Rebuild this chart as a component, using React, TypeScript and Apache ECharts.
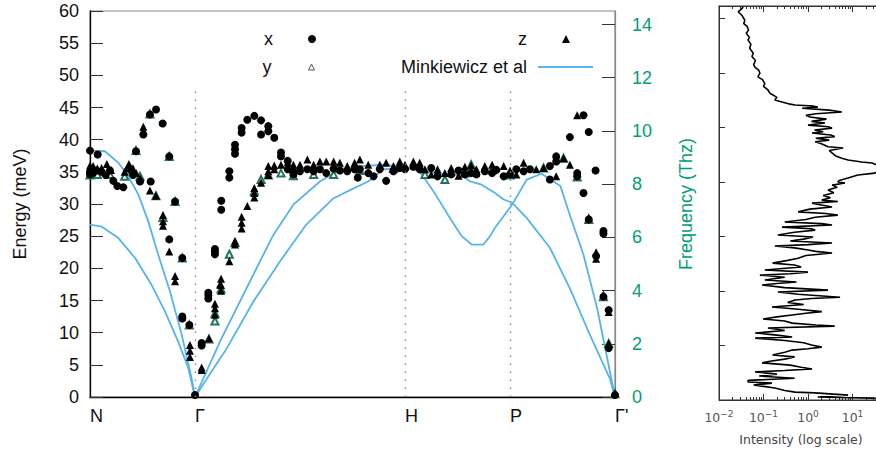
import { useEffect, useRef } from "react";
import * as echarts from "echarts";

const MAIN_FONT = "'Liberation Sans', Arial, Helvetica, sans-serif";
const SIDE_FONT = "'DejaVu Sans', sans-serif";
const GREEN = "#009e73";
const BLUE = "#56b4e9";
const CHART_WIDTH = 920; // wider than the 876px window: the DOS panel runs off the right edge

// High-symmetry path (distance along path, label)
const symmetryPositions = [0, 1, 3, 4, 5];
const symmetryLabels = ["N", "Γ", "H", "P", "Γ'"];
const dividerPositions = [1, 3, 4];
const dividerTop = 47.8;

const energyMax = 60;
const meVPerTHz = 4.13567;
const dosFreqMax = 14.45;

const intensityDecadeExponents = [-2, -1, 0, 1];
const intensityMinorMultipliers = [2, 3, 4, 5, 6, 7, 8, 9];

// Measured phonon energies (meV) along the path
const xPolarization: [number, number][] = [
  [0, 38.3], [0.073, 37.7], [0, 35.0], [0, 34.6], [0.03, 34.8], [0.06, 35.2], [0.11, 35.0], [0.15, 34.5],
  [0.19, 35.2], [0.222, 33.6], [0.26, 32.8], [0.317, 32.6], [0.37, 35.5], [0.41, 34.5], [0.476, 33.5],
  [0.578, 33.5], [0.438, 38.2], [0.508, 40.8], [0.571, 43.9], [0.629, 44.7], [0.692, 42.5], [0.755, 37.4],
  [0.81, 30.4], [0.755, 24.5], [0.879, 21.6], [0.879, 12.5], [0.879, 12.2], [0.946, 11.2], [1.0, 0.3],
  [1.063, 8.4], [1.063, 8.0], [1.127, 15.8], [1.127, 15.3], [1.127, 16.2], [1.19, 22.6], [1.19, 22.2],
  [1.19, 23.0], [1.25, 30.5], [1.25, 29.1], [1.327, 35.1], [1.327, 34.1], [1.381, 38.5], [1.381, 37.8],
  [1.381, 39.2], [1.444, 41.8], [1.444, 41.1], [1.498, 43.1], [1.565, 43.7], [1.629, 43.0], [1.629, 40.8],
  [1.698, 42.1], [1.698, 41.3], [1.755, 40.3], [1.819, 38.0], [1.819, 37.4], [1.883, 36.7], [1.883, 35.4],
  [1.937, 35.0], [1.937, 34.6], [2.0, 35.1], [2.07, 35.4], [2.13, 35.1], [2.19, 35.4], [2.25, 34.8],
  [2.32, 35.5], [2.38, 35.2], [2.45, 35.1], [2.52, 35.4], [2.55, 34.1], [2.57, 35.4], [2.65, 34.8],
  [2.7, 34.3], [2.76, 35.4], [2.82, 33.6], [2.89, 35.1], [2.95, 35.6], [3.0, 35.4], [3.08, 35.8],
  [3.14, 35.4], [3.25, 35.6], [3.31, 34.3], [3.44, 34.6], [3.51, 35.2], [3.57, 34.6], [3.63, 34.8],
  [3.68, 34.6], [3.76, 35.1], [3.83, 34.8], [3.87, 35.3], [3.94, 34.3], [4.0, 34.6], [4.06, 35.4],
  [4.13, 35.1], [4.19, 35.4], [4.38, 35.9], [4.38, 33.8], [4.44, 37.4], [4.44, 36.6], [4.57, 40.4],
  [4.7, 43.8], [4.64, 34.8], [4.64, 34.3], [4.7, 31.7], [4.75, 41.2], [4.75, 27.6], [4.815, 35.2],
  [4.82, 21.9], [4.89, 25.8], [4.89, 25.4], [4.89, 15.6], [4.94, 13.5], [4.94, 7.6], [5.0, 0.3],
];

const yPolarization: [number, number][] = [
  [0, 34.5], [0.07, 34.6], [0.19, 34.6], [0.33, 34.3], [0.4, 35.3], [0.438, 38.3], [0.476, 34.3],
  [0.571, 44.0], [0.628, 31.3], [0.695, 27.9], [0.755, 37.4], [0.81, 30.4], [0.879, 21.6], [0.946, 11.2],
  [1.133, 9.0], [1.19, 11.8], [1.19, 13.0], [1.248, 16.8], [1.327, 22.2], [1.381, 24.0], [1.565, 32.0],
  [1.629, 33.8], [1.698, 34.5], [1.819, 34.8], [1.937, 34.4], [2.13, 34.6], [2.32, 34.6], [2.57, 35.2],
  [2.89, 35.5], [3.19, 34.6], [3.38, 33.8], [3.57, 34.8], [3.63, 36.1], [3.83, 35.3], [4.0, 34.5],
  [4.32, 35.6], [4.51, 37.1], [4.64, 34.2], [4.75, 27.6], [4.89, 15.6], [4.94, 8.3], [5.0, 0.5],
];

const zPolarization: [number, number][] = [
  [0, 36.0], [0, 35.3], [0.03, 35.9], [0.07, 35.5], [0.11, 35.6], [0.16, 36.2], [0.2, 35.3], [0.33, 35.0],
  [0.37, 36.2], [0.41, 35.5], [0.44, 34.8], [0.476, 34.0], [0.508, 42.0], [0.508, 41.4], [0.571, 32.1],
  [0.628, 31.3], [0.695, 28.3], [0.695, 26.6], [0.695, 27.3], [0.755, 22.6], [0.81, 18.8], [0.81, 18.0],
  [0.952, 8.1], [0.952, 7.2], [0.952, 6.2], [1.063, 4.2], [1.063, 4.6], [1.133, 9.1], [1.19, 13.8],
  [1.19, 12.8], [1.19, 14.5], [1.248, 17.4], [1.248, 16.5], [1.248, 18.4], [1.238, 17.5], [1.327, 21.1],
  [1.381, 24.2], [1.381, 23.7], [1.444, 27.1], [1.444, 26.2], [1.444, 28.0], [1.498, 29.7], [1.565, 31.7],
  [1.565, 31.0], [1.565, 32.5], [1.629, 33.3], [1.698, 35.1], [1.698, 35.9], [1.698, 34.5], [1.755, 35.4],
  [1.755, 36.0], [1.819, 36.1], [1.883, 36.5], [1.937, 36.1], [2.0, 36.1], [2.07, 36.9], [2.13, 36.1],
  [2.19, 36.6], [2.25, 36.6], [2.32, 36.6], [2.38, 36.4], [2.45, 35.9], [2.52, 36.4], [2.57, 36.9],
  [2.65, 36.1], [2.76, 36.1], [2.82, 36.4], [2.89, 35.9], [2.95, 36.6], [3.0, 36.1], [3.08, 36.6],
  [3.14, 36.4], [3.19, 35.4], [3.25, 34.6], [3.31, 35.4], [3.38, 34.8], [3.44, 35.6], [3.51, 34.4],
  [3.57, 35.8], [3.63, 36.0], [3.68, 35.4], [3.76, 35.9], [3.83, 36.1], [3.94, 35.9], [4.0, 35.2],
  [4.06, 34.6], [4.13, 36.4], [4.25, 35.4], [4.32, 35.6], [4.44, 34.3], [4.51, 37.1], [4.57, 36.1],
  [4.64, 43.8], [4.75, 27.9], [4.82, 22.5], [4.82, 21.5], [4.89, 15.9], [4.94, 8.3], [4.94, 13.2], [5.0, 0.6],
];

// Minkiewicz et al dispersion branches
const minkNGammaUpper: [number, number][] = [
  [0, 38.3], [0.143, 38.2], [0.27, 36.4], [0.365, 34.3], [0.46, 31.5], [0.555, 27.3], [0.65, 22.1],
  [0.762, 16.4], [0.873, 9.7], [0.968, 2.9], [1, 0],
];
const minkNGammaLower: [number, number][] = [
  [0, 26.8], [0.11, 26.5], [0.27, 24.7], [0.43, 21.6], [0.587, 17.4], [0.714, 13.3], [0.84, 8.6],
  [0.936, 4.5], [1, 0],
];
const minkBranchA: [number, number][] = [
  [1, 0], [1.238, 8.6], [1.286, 10.2], [1.555, 19.0], [1.746, 25.2], [1.936, 29.9], [2.19, 33.5],
  [2.38, 35.4], [2.57, 35.9], [2.81, 36.1], [3.0, 35.7], [3.16, 35.1], [3.38, 34.6], [3.54, 34.5],
  [3.62, 33.5], [3.73, 33.0], [3.857, 31.7], [3.94, 30.7], [4.02, 30.2], [4.16, 27.8], [4.38, 23.2],
  [4.57, 16.9], [4.76, 9.7], [4.95, 2.9], [5, 0],
];
const minkBranchB: [number, number][] = [
  [1, 0], [1.238, 6.0], [1.286, 7.1], [1.555, 14.8], [1.81, 21.1], [2.06, 26.8], [2.32, 30.9],
  [2.52, 32.5], [2.65, 33.5], [2.79, 35.4], [3.0, 35.5], [3.1, 35.4], [3.16, 34.6], [3.29, 31.5],
  [3.41, 28.3], [3.54, 25.0], [3.635, 23.7], [3.746, 23.7], [3.81, 25.0], [3.857, 26.3], [4.02, 29.9],
  [4.16, 33.8], [4.3, 34.7], [4.48, 32.8], [4.57, 28.3], [4.7, 22.1], [4.83, 13.8], [5, 0],
];

// Density of states: frequency (THz) and intensity (log scale)
const dosFrequency = [
  14.41, 14.3, 14.24, 14.1, 13.93, 13.8, 13.7, 13.57, 13.45, 13.3,
  13.2, 13.05, 12.9, 12.72, 12.6, 12.45, 12.3, 12.2, 12.1, 11.99,
  11.85, 11.75, 11.6, 11.5, 11.37, 11.25, 11.1, 11.0, 10.93, 10.85,
  10.82, 10.78, 10.74, 10.7, 10.63, 10.56, 10.5, 10.44, 10.38, 10.3,
  10.22, 10.16, 10.08, 10.02, 9.97, 9.9, 9.84, 9.79, 9.72, 9.66,
  9.6, 9.53, 9.47, 9.4, 9.29, 9.24, 9.15, 9.06, 8.95, 8.87,
  8.8, 8.73, 8.69, 8.55, 8.42, 8.32, 8.25, 8.14, 8.05, 8.0,
  7.96, 7.88, 7.8, 7.7, 7.6, 7.5, 7.42, 7.33, 7.28, 7.22,
  7.15, 7.08, 7.0, 6.9, 6.84, 6.78, 6.7, 6.62, 6.53, 6.47,
  6.42, 6.34, 6.28, 6.23, 6.15, 6.05, 5.98, 5.9, 5.83, 5.76,
  5.7, 5.65, 5.58, 5.5, 5.45, 5.39, 5.3, 5.2, 5.12, 5.02,
  4.95, 4.88, 4.77, 4.69, 4.63, 4.58, 4.5, 4.4, 4.33, 4.27,
  4.22, 4.12, 4.03, 3.96, 3.88, 3.77, 3.72, 3.67, 3.58, 3.5,
  3.41, 3.33, 3.24, 3.18, 3.12, 3.05, 2.97, 2.9, 2.82, 2.75,
  2.71, 2.64, 2.55, 2.46, 2.38, 2.31, 2.27, 2.18, 2.1, 2.02,
  1.94, 1.88, 1.83, 1.75, 1.65, 1.58, 1.5, 1.42, 1.36, 1.28,
  1.2, 1.14, 1.08, 1.03, 0.95, 0.88, 0.8, 0.72, 0.66, 0.62,
  0.55, 0.5, 0.44, 0.35, 0.29, 0.26, 0.18, 0.11, 0.07, 0.03,
];
const dosIntensity = [
  0.035, 0.03, 0.027, 0.033, 0.038, 0.036, 0.043, 0.046, 0.041, 0.048,
  0.045, 0.052, 0.049, 0.059, 0.055, 0.066, 0.06, 0.065, 0.078, 0.083,
  0.075, 0.095, 0.107, 0.1, 0.126, 0.14, 0.2, 0.18, 0.26, 0.4,
  0.51, 1.3, 1.66, 0.74, 3.0, 5.75, 1.5, 0.9, 1.1, 2.6,
  1.2, 2.4, 1.0, 2.9, 3.47, 1.4, 2.2, 1.23, 3.2, 3.98,
  1.5, 3.0, 1.45, 2.0, 2.82, 6.17, 3.0, 3.47, 4.2, 5.75,
  7.94, 16.2, 27.5, 45, 40, 31.6, 13.2, 7.94, 5.0, 4.68,
  6.76, 3.5, 4.5, 2.82, 3.8, 2.2, 3.2, 2.04, 4.68, 1.23,
  2.0, 3.47, 1.1, 0.6, 2.5, 4.68, 1.45, 0.9, 0.3, 2.0,
  3.47, 0.26, 1.2, 1.45, 0.5, 0.21, 1.3, 0.8, 0.4, 3.47,
  1.0, 0.18, 0.5, 1.0, 1.5, 3.47, 0.9, 0.6, 0.35, 0.16,
  0.5, 0.7, 0.107, 1.0, 0.4, 0.083, 0.3, 0.107, 0.55, 0.2,
  0.093, 0.3, 2.82, 0.21, 0.6, 5.25, 1.2, 0.51, 0.35, 0.8,
  0.155, 0.6, 2.04, 0.9, 0.44, 0.2, 0.098, 0.3, 0.44, 1.5,
  3.98, 0.126, 0.3, 0.065, 0.2, 0.44, 0.065, 0.3, 0.8, 1.2,
  2.04, 1.0, 0.44, 0.3, 0.16, 0.5, 0.3, 0.14, 0.093, 0.4,
  0.7, 1.23, 0.3, 0.065, 0.2, 0.08, 0.5, 0.045, 0.045, 0.155,
  0.06, 0.1, 0.18, 0.3, 0.51, 1.45, 7.94, 1.66, 27.5, 60,
];

function buildOption() {
  const dosData = dosFrequency.map((f, i) => [dosIntensity[i], f]);
  const minorTicks = intensityDecadeExponents.flatMap((e) =>
    intensityMinorMultipliers.map((m) => e + Math.log10(m))
  );
  const mainText = { fontFamily: MAIN_FONT, fontSize: 18, color: "#111" };
  const legendBase = {
    orient: "horizontal",
    align: "right",
    padding: 0,
    itemWidth: 8,
    itemHeight: 8,
    selectedMode: false,
  };
  const minkSeries = [minkNGammaUpper, minkNGammaLower, minkBranchA, minkBranchB].map((d) => ({
    name: "Minkiewicz et al",
    type: "line",
    xAxisIndex: 0,
    yAxisIndex: 0,
    data: d,
    symbol: "none",
    showSymbol: false,
    lineStyle: { color: BLUE, width: 1.8 },
    itemStyle: { color: BLUE },
    z: 1,
  }));

  return {
    animation: false,
    backgroundColor: "#fff",
    grid: [
      { left: 90, top: 11, width: 525, height: 386, show: true, borderColor: "#888", borderWidth: 1.2, backgroundColor: "transparent" },
      { left: 719, top: 6, width: 178, height: 394, show: true, borderColor: "#333", borderWidth: 1, backgroundColor: "transparent" },
    ],
    legend: [
      { ...legendBase, data: ["x"], right: CHART_WIDTH - 316, top: 30, textStyle: { ...mainText, padding: [0, 30, 0, 0] } },
      { ...legendBase, data: ["z"], right: CHART_WIDTH - 570, top: 30, textStyle: { ...mainText, padding: [0, 30, 0, 0] } },
      {
        ...legendBase,
        data: [{ name: "y", icon: "triangle", itemStyle: { color: "#fff", borderColor: "#555", borderWidth: 1 } }],
        itemWidth: 6,
        itemHeight: 6,
        right: CHART_WIDTH - 315,
        top: 58,
        textStyle: { ...mainText, padding: [0, 32, 0, 0] },
      },
      {
        ...legendBase,
        data: [{ name: "Minkiewicz et al", icon: "rect" }],
        right: CHART_WIDTH - 593,
        top: 58,
        itemWidth: 55,
        itemHeight: 2,
        textStyle: { ...mainText, padding: [0, 6, 0, 0] },
      },
    ],
    xAxis: [
      {
        gridIndex: 0,
        type: "value",
        min: 0,
        max: 5,
        axisLine: { show: true, onZero: false, lineStyle: { color: "#000", width: 1.3 } },
        axisTick: { show: false },
        splitLine: { show: false },
        axisLabel: {
          ...mainText,
          customValues: symmetryPositions,
          formatter: (v: number) => {
            const i = symmetryPositions.indexOf(v);
            return i >= 0 ? symmetryLabels[i] : "";
          },
          align: "left",
          margin: 10,
        },
      },
      {
        gridIndex: 1,
        type: "log",
        logBase: 10,
        min: 0.01,
        max: 100,
        position: "bottom",
        axisLine: { show: true, onZero: false, lineStyle: { color: "#333", width: 1 } },
        axisTick: { show: true, inside: true, length: 6, lineStyle: { color: "#333" } },
        splitLine: { show: false },
        axisLabel: {
          margin: 9,
          showMaxLabel: false,
          formatter: (v: number) => {
            const e = Math.round(Math.log10(v));
            if (e > 1) return "";
            return `{b|10}{s|${e < 0 ? "−" : ""}${Math.abs(e)}}`;
          },
          rich: {
            b: { fontFamily: SIDE_FONT, fontSize: 12.5, color: "#555", lineHeight: 16 },
            s: { fontFamily: SIDE_FONT, fontSize: 9, color: "#555", verticalAlign: "top", lineHeight: 10 },
          },
        },
        name: "Intensity (log scale)",
        nameLocation: "middle",
        nameGap: 33,
        nameTextStyle: { fontFamily: SIDE_FONT, fontSize: 12.5, color: "#444", padding: [0, 14, 0, 0] },
      },
      {
        gridIndex: 1,
        type: "value",
        min: -2,
        max: 2,
        position: "bottom",
        axisLine: { show: false },
        axisTick: { show: true, inside: true, length: 3, customValues: minorTicks, lineStyle: { color: "#333" } },
        axisLabel: { show: false },
        splitLine: { show: false },
      },
      {
        gridIndex: 1,
        type: "log",
        logBase: 10,
        min: 0.01,
        max: 100,
        position: "top",
        axisLine: { show: true, onZero: false, lineStyle: { color: "#333", width: 1 } },
        axisTick: { show: true, inside: true, length: 6, lineStyle: { color: "#333" } },
        axisLabel: { show: false },
        splitLine: { show: false },
      },
      {
        gridIndex: 1,
        type: "value",
        min: -2,
        max: 2,
        position: "top",
        axisLine: { show: false },
        axisTick: { show: true, inside: true, length: 3, customValues: minorTicks, lineStyle: { color: "#333" } },
        axisLabel: { show: false },
        splitLine: { show: false },
      },
    ],
    yAxis: [
      {
        gridIndex: 0,
        type: "value",
        min: 0,
        max: energyMax,
        interval: 5,
        position: "left",
        axisLine: { show: true, onZero: false, lineStyle: { color: "#000", width: 1.3 } },
        axisTick: { show: true, inside: true, length: 13, lineStyle: { color: "#333" } },
        splitLine: { show: false },
        axisLabel: { ...mainText, margin: 11 },
        name: "Energy (meV)",
        nameLocation: "middle",
        nameGap: 61,
        nameTextStyle: { ...mainText },
      },
      {
        gridIndex: 0,
        type: "value",
        min: 0,
        max: energyMax / meVPerTHz,
        interval: 2,
        position: "right",
        axisLine: { show: true, onZero: false, lineStyle: { color: "#888", width: 1.2 } },
        axisTick: { show: true, inside: true, length: 13, lineStyle: { color: "#333" } },
        splitLine: { show: false },
        axisLabel: { ...mainText, color: GREEN, margin: 17, showMaxLabel: false },
        name: "Frequency (Thz)",
        nameLocation: "middle",
        nameGap: 62,
        nameTextStyle: { ...mainText, color: GREEN },
      },
      {
        gridIndex: 1,
        type: "value",
        min: 0,
        max: dosFreqMax,
        interval: 2,
        position: "left",
        axisLine: { show: true, onZero: false, lineStyle: { color: "#333", width: 1 } },
        axisTick: { show: true, inside: true, length: 6, lineStyle: { color: "#333" } },
        axisLabel: { show: false },
        splitLine: { show: false },
      },
    ],
    series: [
      {
        name: "y",
        type: "scatter",
        xAxisIndex: 0,
        yAxisIndex: 0,
        data: yPolarization,
        symbol: "emptyTriangle",
        symbolSize: 7,
        itemStyle: { color: "#25735a", borderWidth: 1, opacity: 1 },
        z: 2,
        markLine: {
          silent: true,
          symbol: ["none", "none"],
          label: { show: false },
          lineStyle: { color: "#888", type: [1.5, 6.5], width: 1.4 },
          data: dividerPositions.map((p) => [{ coord: [p, 0] }, { coord: [p, dividerTop] }]),
        },
      },
      {
        name: "x",
        type: "scatter",
        xAxisIndex: 0,
        yAxisIndex: 0,
        data: xPolarization,
        symbol: "circle",
        symbolSize: 8,
        itemStyle: { color: "#000", opacity: 1 },
        z: 3,
      },
      {
        name: "z",
        type: "scatter",
        xAxisIndex: 0,
        yAxisIndex: 0,
        data: zPolarization,
        symbol: "triangle",
        symbolSize: 8,
        itemStyle: { color: "#000", opacity: 1 },
        z: 3,
      },
      ...minkSeries,
      {
        name: "DOS",
        type: "line",
        xAxisIndex: 1,
        yAxisIndex: 2,
        data: dosData,
        symbol: "none",
        showSymbol: false,
        lineStyle: { color: "#000", width: 1.6 },
        itemStyle: { color: "#000" },
        z: 2,
      },
    ],
  };
}

export default function App() {
  const ref = useRef<HTMLDivElement>(null);
  useEffect(() => {
    if (!ref.current) return;
    const chart = echarts.init(ref.current, undefined, { renderer: "svg" });
    chart.setOption(buildOption() as any);
    return () => chart.dispose();
  }, []);
  return (
    <div
      ref={ref}
      style={{ position: "fixed", left: 0, top: 0, width: CHART_WIDTH, height: 456, background: "#fff" }}
    />
  );
}
